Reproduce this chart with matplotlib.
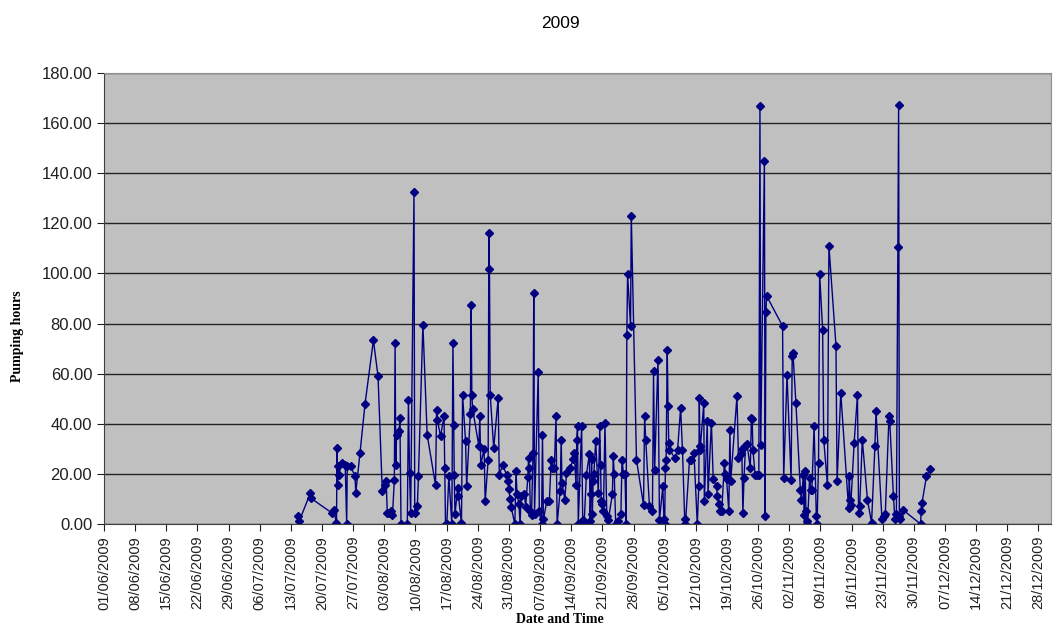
import pandas as pd
import matplotlib
matplotlib.use("Agg")
import matplotlib.pyplot as plt
import matplotlib.dates as mdates

# pumping log: timestamp (month-day hour, 2009) and pumping hours
stamps = [
    '07-14 16', '07-14 20', '07-17 09', '07-17 12', '07-22 07', '07-22 14', '07-23 06', '07-23 09',
    '07-23 12', '07-23 15', '07-23 18', '07-24 11', '07-25 05', '07-25 13', '07-25 16', '07-26 11',
    '07-27 10', '07-27 14', '07-28 13', '07-29 16', '07-31 13',
    '08-01 14', '08-02 13', '08-03 06', '08-03 10', '08-03 16', '08-04 01', '08-04 12', '08-04 20',
    '08-05 06', '08-05 10', '08-05 14', '08-05 18', '08-06 08', '08-06 12', '08-06 18', '08-08 04',
    '08-08 10', '08-08 16', '08-08 22', '08-09 16', '08-09 20', '08-10 10', '08-10 16', '08-11 16',
    '08-12 15', '08-14 12', '08-14 18', '08-14 22', '08-15 15', '08-16 10', '08-16 14', '08-16 18',
    '08-17 01', '08-17 12', '08-18 04', '08-18 10', '08-18 14', '08-18 17', '08-18 21', '08-19 12',
    '08-19 16', '08-20 08', '08-20 14', '08-21 06', '08-21 12', '08-22 08', '08-22 12', '08-22 16',
    '08-22 20', '08-24 06', '08-24 11', '08-24 16', '08-25 10', '08-25 16', '08-26 08', '08-26 12',
    '08-26 15', '08-26 19', '08-27 14', '08-28 14', '08-28 20', '08-29 14', '08-30 12', '08-30 18',
    '08-31 00', '08-31 06', '08-31 12',
    '09-01 08', '09-01 14', '09-01 20', '09-02 06', '09-02 12', '09-02 18', '09-03 12', '09-03 18',
    '09-04 06', '09-04 10', '09-04 14', '09-04 20', '09-05 02', '09-05 10', '09-05 14', '09-05 18',
    '09-06 14', '09-06 20', '09-07 08', '09-07 13', '09-07 18', '09-08 12', '09-09 02', '09-09 12',
    '09-09 16', '09-10 05', '09-10 14', '09-10 20', '09-11 12', '09-11 18', '09-11 22', '09-12 14',
    '09-12 22', '09-13 18', '09-14 12', '09-14 16', '09-15 02', '09-15 06', '09-15 10', '09-15 14',
    '09-16 08', '09-16 14', '09-16 22', '09-17 10', '09-18 02', '09-18 06', '09-18 10', '09-18 14',
    '09-18 18', '09-18 22', '09-19 02', '09-19 12', '09-20 02', '09-20 10', '09-20 14', '09-20 18',
    '09-21 00', '09-21 06', '09-21 14', '09-22 00', '09-22 08', '09-23 06', '09-23 11', '09-23 16',
    '09-24 00', '09-24 12', '09-25 04', '09-25 10', '09-25 18', '09-26 02', '09-26 08', '09-26 12',
    '09-26 16', '09-27 08', '09-27 12', '09-28 16', '09-30 06', '09-30 12', '09-30 18',
    '10-01 14', '10-02 06', '10-02 12', '10-02 18', '10-03 12', '10-03 20', '10-04 14', '10-04 20',
    '10-05 00', '10-05 04', '10-05 08', '10-05 14', '10-05 18', '10-05 22', '10-06 02', '10-07 07',
    '10-07 22', '10-08 14', '10-09 00', '10-09 12', '10-09 16', '10-10 14', '10-11 00', '10-11 14',
    '10-12 08', '10-12 16', '10-12 19', '10-12 22', '10-13 01', '10-13 19', '10-13 22', '10-14 14',
    '10-14 18', '10-15 12', '10-15 22', '10-16 16', '10-16 20', '10-17 04', '10-17 12', '10-17 20',
    '10-18 10', '10-18 16', '10-18 22', '10-19 10', '10-19 16', '10-19 20', '10-21 06', '10-21 14',
    '10-22 02', '10-22 08', '10-22 14', '10-22 20', '10-23 04', '10-23 12', '10-24 06', '10-24 12',
    '10-24 16', '10-24 20', '10-25 08', '10-25 18', '10-26 04', '10-26 10', '10-26 14', '10-27 10',
    '10-27 14', '10-27 18', '10-27 22', '10-31 12', '10-31 18',
    '11-01 12', '11-02 10', '11-02 16', '11-02 20', '11-03 12', '11-04 12', '11-04 18', '11-05 04',
    '11-05 08', '11-05 14', '11-05 18', '11-05 22', '11-06 02', '11-06 14', '11-06 20', '11-07 02',
    '11-07 14', '11-08 02', '11-08 06', '11-08 14', '11-08 20', '11-09 12', '11-09 18', '11-10 14',
    '11-10 22', '11-12 12', '11-12 18', '11-13 14', '11-15 08', '11-15 12', '11-15 16', '11-15 20',
    '11-16 14', '11-17 08', '11-17 14', '11-17 20', '11-18 10', '11-19 14', '11-20 12', '11-21 06',
    '11-21 12', '11-22 20', '11-23 06', '11-23 14', '11-24 10', '11-24 14', '11-25 10', '11-25 18',
    '11-26 02', '11-26 10', '11-26 14', '11-26 18', '11-26 22', '11-27 14',
    '12-01 12', '12-01 16', '12-01 20', '12-02 20', '12-03 16',
]

hours = [
    3, 1, 12.3, 10.3, 4.3, 5.6, 0.5, 30.3,
    15.6, 23, 19.6, 24.5, 23.6, 0, 23.2, 23,
    19, 12.5, 28.5, 48, 73.3,
    59, 13, 15.6, 17, 4.4, 4.4, 5, 3.5,
    17.6, 72.3, 23.6, 35.6, 37, 42.4, 0, 0,
    49.6, 20.4, 4.4, 132.3, 4.4, 7, 19, 79.6,
    35.6, 15.6, 45.6, 41.6, 35, 43, 22.3, 0,
    0, 19, 0, 72.3, 39.6, 19.6, 4, 14.3,
    11, 0.3, 51.6, 33, 15, 44, 87.3, 51.6,
    46, 31, 43.2, 23.6, 30, 9, 25.6, 116.3,
    101.6, 51.6, 30.3, 50.3, 19.5, 23.6, 19.5, 17,
    14, 10, 6.7,
    0, 21, 12, 8, 0, 11, 12, 6.7,
    18.6, 26.3, 22.3, 5, 3.7, 28.3, 92.3, 4,
    60.7, 5, 0, 35.6, 1.8, 9, 9, 25.6,
    22.3, 22.3, 43, 0, 13, 33.6, 16.3, 9.6,
    20.3, 22.3, 26, 28.3, 15.6, 33.6, 39, 0,
    39, 1.5, 0.8, 19.6, 28, 1.2, 12, 26,
    4, 17, 20, 33, 12.4, 39, 23.6, 9,
    8, 5, 40.3, 3, 1.5, 12, 27, 20,
    0, 1, 4, 25.6, 20, 20, 0, 75.6,
    99.6, 79, 123, 25.6, 7.6, 43, 33.6,
    7, 5, 61, 21.6, 65.6, 1.5, 15, 2,
    0, 22.3, 25.6, 69.6, 47, 32.5, 29.7, 26.3,
    29.7, 46.3, 29.7, 2, 0, 25.6, 25.6, 28.3,
    0, 15, 50.3, 29.7, 31, 48.3, 9, 41,
    12, 40.4, 18, 15, 11, 8, 5, 5,
    24.3, 20, 18, 5, 37.6, 17, 51, 26.3,
    28, 30, 4.4, 18.3, 31, 32, 22.3, 42.3,
    42, 29.6, 19.6, 19.6, 19.6, 166.7, 31.6, 145,
    3, 84.5, 91, 79, 18.3,
    59.6, 17.6, 67, 68.3, 48.3, 13.6, 9.6, 19.6,
    3.5, 21, 5, 1, 0, 18.5, 13.6, 13.6,
    39, 3.3, 0, 24.3, 99.6, 77.6, 33.6, 15.6,
    111, 71.2, 17, 52.3, 6.3, 19, 9.6, 7.6,
    32.3, 51.6, 4.4, 7, 33.6, 9.6, 0.5, 31,
    45, 2, 3, 4, 43, 41, 11, 2,
    4, 110.7, 167, 3, 2, 5.6,
    0, 5, 8.4, 19, 22,
]

times = pd.to_datetime(['2009-' + s for s in stamps], format='%Y-%m-%d %H')

plt.rcParams['font.family'] = ['Liberation Sans', 'DejaVu Sans']

fig = plt.figure(figsize=(10.57, 6.34), dpi=100)
ax = fig.add_axes([0.0984, 0.1735, 0.8956, 0.7115])
ax.set_facecolor('#C0C0C0')

ax.plot(times, hours, color='#000080', lw=1, marker='D', markersize=4,
        markerfacecolor='#000080', markeredgecolor='#000080')

ax.set_ylim(0, 180)
ax.set_yticks(range(0, 181, 20))
ax.yaxis.set_major_formatter(matplotlib.ticker.FormatStrFormatter('%.2f'))
ax.grid(axis='y', color='#222222', lw=1)
ax.set_axisbelow(True)

# weekly ticks, Excel style dd/mm/yyyy
ax.set_xlim(pd.Timestamp('2009-06-01'), pd.Timestamp('2009-12-30 18:00'))
ticks = pd.date_range('2009-06-01', '2009-12-28', freq='7D')
ax.set_xticks(ticks)
ax.xaxis.set_major_formatter(mdates.DateFormatter('%d/%m/%Y'))
plt.setp(ax.get_xticklabels(), rotation=90)

ax.tick_params(axis='x', labelsize=10.5, colors='#202020', length=5, direction='out')
ax.tick_params(axis='y', labelsize=12, colors='#202020', length=5, direction='out')

for side in ['left', 'bottom']:
    ax.spines[side].set_color('#404040')
for side in ['top', 'right']:
    ax.spines[side].set_color('#909090')

fig.text(0.53, 0.963, '2009', ha='center', va='center', fontsize=12.5)
fig.text(0.53, 0.012, 'Date and Time', ha='center', va='bottom', fontsize=10,
         fontweight='bold', family='Liberation Serif')
fig.text(0.017, 0.47, 'Pumping hours', ha='center', va='center', rotation=90,
         fontsize=10, fontweight='bold', family='Liberation Serif')

fig.savefig('out.png', dpi=100)
